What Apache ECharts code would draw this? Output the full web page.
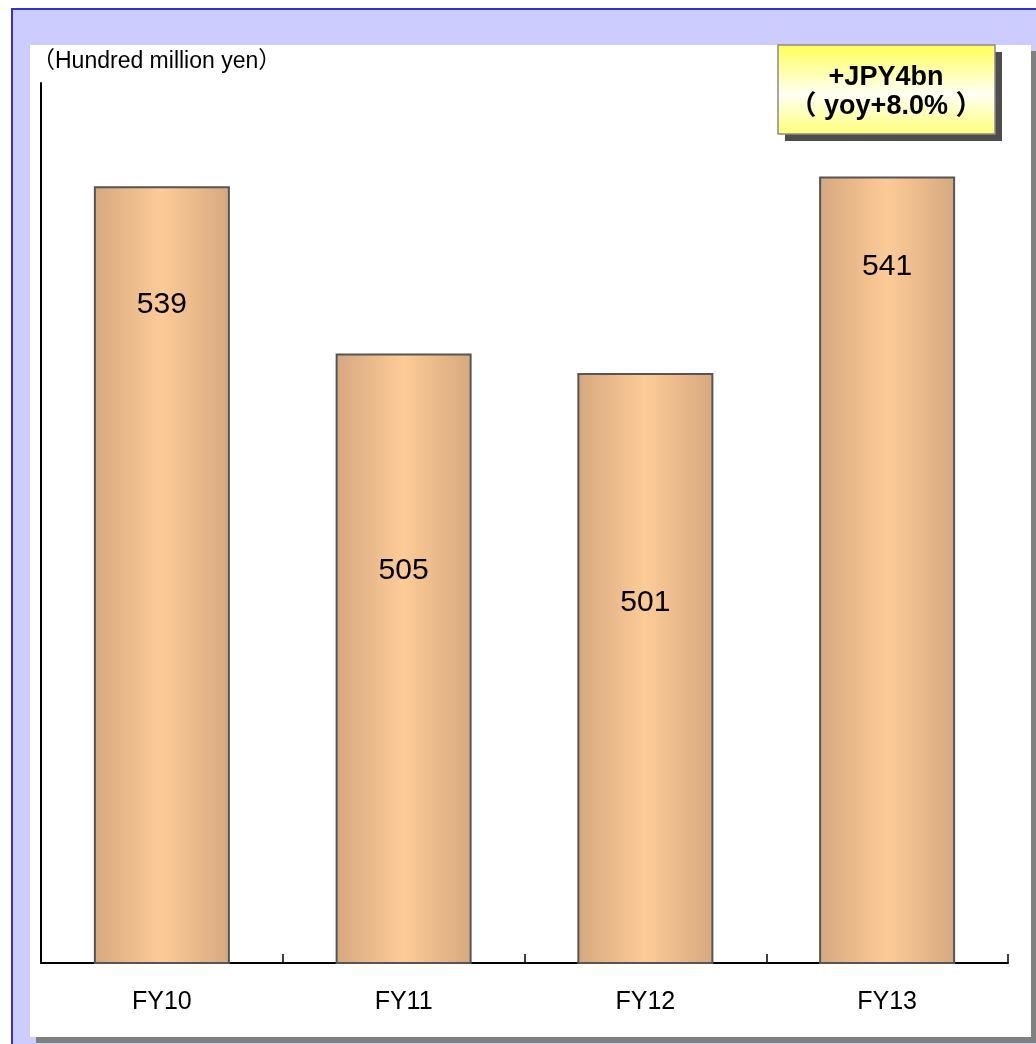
<!DOCTYPE html>
<html>
<head>
<meta charset="utf-8">
<script src="https://cdn.jsdelivr.net/npm/echarts@6/dist/echarts.min.js"></script>
<style>
  html, body { margin: 0; padding: 0; background: #ffffff; }
  #chart { width: 1036px; height: 1044px; }
</style>
</head>
<body>
<div id="chart"></div>
<script>
// Fiscal years and net sales (hundred million yen)
const categories = ['FY10', 'FY11', 'FY12', 'FY13'];
const sales = [539, 505, 501, 541];
const unitLabel = '（Hundred million yen）';
const calloutLines = ['+JPY4bn', '（ yoy+8.0% ）'];

// How far each value label sits below the top of its bar
const labelDistances = [103, 202, 215, 75];

const FONT = '"Liberation Sans", Arial, "Noto Sans CJK JP", sans-serif';

const barFill = {
  type: 'linear', x: 0, y: 0, x2: 1, y2: 0,
  colorStops: [
    { offset: 0, color: '#D6A87F' },
    { offset: 0.5, color: '#FDCB97' },
    { offset: 1, color: '#D6A87F' }
  ]
};

const chart = echarts.init(document.getElementById('chart'), null, { renderer: 'canvas' });

chart.setOption({
  animation: false,
  backgroundColor: '#ffffff',
  grid: { left: 41, right: 28, top: 83, bottom: 81, containLabel: false },
  xAxis: {
    type: 'category',
    data: categories,
    boundaryGap: true,
    axisLine: { show: true, lineStyle: { color: '#000', width: 2 } },
    axisTick: { show: true, inside: true, length: 9, lineStyle: { color: '#000', width: 1.5 } },
    axisLabel: { color: '#000', fontSize: 25, fontFamily: FONT, margin: 27 }
  },
  yAxis: {
    type: 'value',
    min: 381,
    max: 560,
    axisLine: { show: true, lineStyle: { color: '#000', width: 2 } },
    axisTick: { show: false },
    axisLabel: { show: false },
    splitLine: { show: false }
  },
  series: [{
    type: 'bar',
    barWidth: 136,
    data: sales.map((v, i) => ({
      value: v,
      label: { distance: labelDistances[i] }
    })),
    itemStyle: { color: barFill, borderColor: '#555555', borderWidth: 2 },
    label: {
      show: true,
      position: 'insideTop',
      formatter: '{c}',
      color: '#000',
      fontSize: 30,
      fontFamily: FONT
    }
  }],
  graphic: [
    // outer frame
    { type: 'rect', z: -20, shape: { x: 12, y: 9, width: 1030, height: 1040 },
      style: { fill: '#CCCCFF', stroke: '#3333CC', lineWidth: 2 } },
    // panel shadow
    { type: 'rect', z: -19, shape: { x: 36, y: 51, width: 1000, height: 992 },
      style: { fill: '#808080' } },
    // white panel
    { type: 'rect', z: -18, shape: { x: 30, y: 45, width: 1001, height: 992 },
      style: { fill: '#ffffff' } },
    // unit caption
    { type: 'text', z: 5, left: 32, top: 50,
      style: { text: unitLabel, fill: '#000', font: '23px ' + FONT } },
    // callout box shadow
    { type: 'rect', z: 5, shape: { x: 785, y: 52, width: 217, height: 89 },
      style: { fill: '#4D4D4D' } },
    // callout box
    { type: 'rect', z: 6, shape: { x: 778, y: 45, width: 217, height: 89 },
      style: {
        fill: {
          type: 'linear', x: 0, y: 0, x2: 0, y2: 1,
          colorStops: [
            { offset: 0, color: '#FFFF55' },
            { offset: 0.55, color: '#FFFFF4' },
            { offset: 1, color: '#FFFF77' }
          ]
        },
        stroke: '#8A8A8A', lineWidth: 1.5
      } },
    { type: 'text', z: 7, x: 886, y: 78,
      style: { text: calloutLines[0], fill: '#000', font: 'bold 27px ' + FONT,
               textAlign: 'center', textVerticalAlign: 'middle' } },
    { type: 'text', z: 7, x: 886, y: 107,
      style: { text: calloutLines[1], fill: '#000', font: 'bold 27px ' + FONT,
               textAlign: 'center', textVerticalAlign: 'middle' } }
  ]
});
</script>
</body>
</html>
